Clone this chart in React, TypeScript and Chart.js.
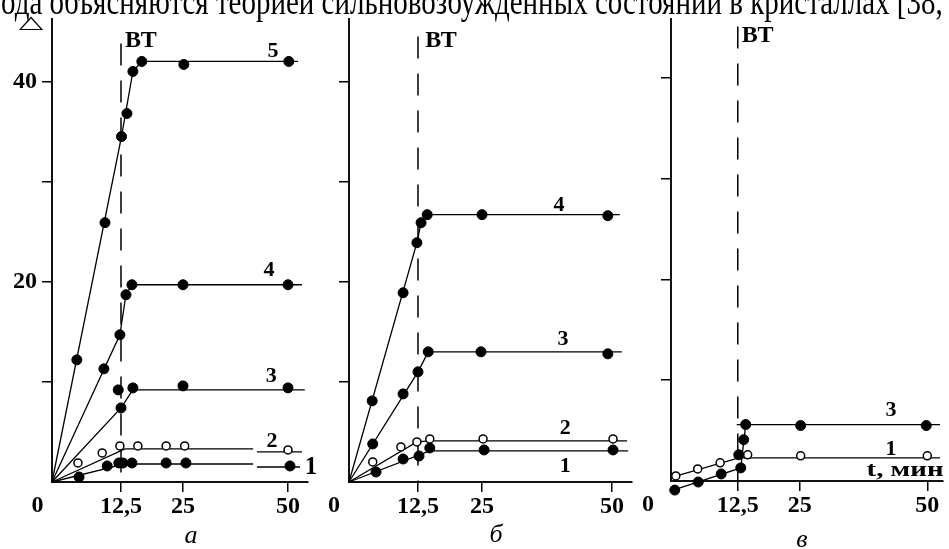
import React, { useEffect, useRef } from 'react';
import { Chart, registerables, LinearScale } from 'chart.js';

Chart.register(...registerables);

// ---------- data (t in minutes, value of Δ) ----------
const X_TICKS = [12.5, 25, 50];
const X_TICK_LABELS = ['12,5', '25', '50'];
const Y_TICKS = [10, 20, 30, 40];
const Y_LABELED = [20, 40];
const BT_TIME = 12.5;

// panel а
const A5_T = [4.5, 9.6, 12.6, 13.7, 14.9, 16.7, 25.2, 50.2];
const A5_V = [12.2, 25.9, 34.5, 36.8, 41.0, 42.0, 41.7, 42.0];
const A5_FIT_T = [0, 12.6, 14.9, 16.7, 52.5];
const A5_FIT_V = [0, 34.5, 41.0, 42.0, 42.0];
const A4_T = [9.4, 12.3, 13.5, 14.7, 25.0, 50.0];
const A4_V = [11.3, 14.7, 18.7, 19.7, 19.7, 19.7];
const A4_FIT_T = [0, 12.3, 13.5, 14.7, 53.5];
const A4_FIT_V = [0, 14.7, 18.7, 19.7, 19.7];
const A3_T = [12.0, 12.5, 14.9, 25.0, 50.0];
const A3_V = [9.2, 7.4, 9.4, 9.6, 9.4];
const A3_FIT_T = [0, 12.5, 14.9, 54.2];
const A3_FIT_V = [0, 7.4, 9.2, 9.2];
const A2_T = [4.7, 9.1, 12.3, 15.9, 21.6, 25.4, 50.0];
const A2_V = [1.9, 2.9, 3.6, 3.6, 3.6, 3.6, 3.2];
const A2_FIT_T = [0, 13.3, 41.7, null, 42.6, 53.5];
const A2_FIT_V = [0, 3.3, 3.3, null, 3.0, 3.0];
const A1_T = [4.9, 10.0, 12.1, 12.9, 14.7, 21.6, 25.7, 50.5];
const A1_V = [0.5, 1.6, 1.9, 1.9, 1.9, 1.9, 1.9, 1.6];
const A1_FIT_T = [0, 13.3, 41.7, null, 42.6, 53.0];
const A1_FIT_V = [0, 1.8, 1.8, null, 1.5, 1.5];

// panel б
const B4_T = [4.2, 9.8, 12.3, 13.1, 14.3, 25.0, 49.2];
const B4_V = [8.1, 18.9, 23.9, 25.9, 26.7, 26.7, 26.6];
const B4_FIT_T = [0, 12.3, 13.1, 14.3, 51.5];
const B4_FIT_V = [0, 23.9, 25.9, 26.7, 26.7];
const B3_T = [4.3, 9.8, 12.5, 14.5, 24.8, 49.2];
const B3_V = [3.8, 8.8, 11.0, 13.0, 13.0, 12.8];
const B3_FIT_T = [0, 12.5, 14.5, 51.9];
const B3_FIT_V = [0, 11.0, 13.0, 13.0];
const B2_T = [4.3, 9.4, 12.3, 14.8, 25.2, 50.2];
const B2_V = [2.0, 3.5, 4.0, 4.3, 4.3, 4.3];
const B2_FIT_T = [0, 12.3, 14.8, 52.9];
const B2_FIT_V = [0, 4.0, 4.1, 4.1];
const B1_T = [4.9, 9.8, 12.7, 14.8, 25.4, 50.2];
const B1_V = [1.0, 2.3, 2.6, 3.4, 3.2, 3.2];
const B1_FIT_T = [0, 14.8, 53.1];
const B1_FIT_V = [0, 3.1, 3.1];

// panel в
const C3_T = [0.7, 5.1, 9.4, 13.1, 12.7, 13.7, 14.1, 25.2, 49.8];
const C3_V = [-0.9, -0.1, 0.7, 1.3, 2.6, 4.1, 5.6, 5.5, 5.5];
const C3_FIT_T = [0.4, 13.1, 14.1, null, 12.3, 52.5];
const C3_FIT_V = [-0.9, 1.3, 5.6, null, 5.6, 5.6];
const C1_T = [0.9, 5.0, 9.2, 14.5, 25.2, 50.0];
const C1_V = [0.5, 1.2, 1.8, 2.6, 2.5, 2.5];
const C1_FIT_T = [0.4, 12.7, 52.5];
const C1_FIT_V = [0.4, 2.3, 2.3];

const TOP_TEXT = 'ода объясняются теорией сильновозбужденных состояний в кристаллах [38,';

// ---------- piecewise-linear time scale ----------
class WarpScale extends LinearScale {
  static id = 'warp';
  warpDecimal(value) {
    const vals = this.options.warpValues;
    const fr = this.options.warpFracs;
    let i = 0;
    while (i < vals.length - 2 && value > vals[i + 1]) i++;
    return fr[i] + ((value - vals[i]) / (vals[i + 1] - vals[i])) * (fr[i + 1] - fr[i]);
  }
  getPixelForValue(value) {
    if (value === null || value === undefined || Number.isNaN(value)) return NaN;
    return this.getPixelForDecimal(this.warpDecimal(value));
  }
  getValueForPixel(pixel) {
    const d = this.getDecimalForPixel(pixel);
    const vals = this.options.warpValues;
    const fr = this.options.warpFracs;
    let i = 0;
    while (i < fr.length - 2 && d > fr[i + 1]) i++;
    return vals[i] + ((d - fr[i]) / (fr[i + 1] - fr[i])) * (vals[i + 1] - vals[i]);
  }
}
Chart.register(WarpScale);

const SERIF = '"Liberation Serif", "Times New Roman", serif';
const LABEL_FONT = `bold 22px ${SERIF}`;
const LETTER_FONT = `italic 26px ${SERIF}`;

const PANEL_A = {
  area: { left: 52, right: 308, top: 15, bottom: 482 },
  warpValues: [0, 12.5, 25, 50, 55],
  warpFracs: [0, 0.2695, 0.5117, 0.9219, 1],
  yMax: 46.2,
  btTop: 43.8,
  yLabels: true,
  curves: [
    { t: A5_T, v: A5_V, ft: A5_FIT_T, fv: A5_FIT_V, open: false },
    { t: A4_T, v: A4_V, ft: A4_FIT_T, fv: A4_FIT_V, open: false },
    { t: A3_T, v: A3_V, ft: A3_FIT_T, fv: A3_FIT_V, open: false },
    { t: A2_T, v: A2_V, ft: A2_FIT_T, fv: A2_FIT_V, open: true },
    { t: A1_T, v: A1_V, ft: A1_FIT_T, fv: A1_FIT_V, open: false },
  ],
  texts: [
    { text: '5', t: 46.4, v: 43.0, font: LABEL_FONT },
    { text: '4', t: 45.5, v: 21.1, font: LABEL_FONT },
    { text: '3', t: 46.0, v: 10.6, font: LABEL_FONT },
    { text: '2', t: 46.2, v: 4.06, font: LABEL_FONT },
    { text: '1', t: 55.75, v: 1.49, font: `bold 25px ${SERIF}` },
    { text: 'ВТ', t: 13.3, v: 44.1, font: `bold 24px ${SERIF}`, align: 'left' },
    { text: '0', px: 37.5, py: 506, font: `bold 24px ${SERIF}` },
    { text: 'а', px: 191, py: 536, font: LETTER_FONT },
  ],
  extra: true,
};

const PANEL_B = {
  area: { left: 349, right: 632, top: 15, bottom: 482 },
  warpValues: [0, 12.5, 25, 50, 53.85],
  warpFracs: [0, 0.2438, 0.47, 0.9293, 1],
  yMax: 46.2,
  btTop: 44.5,
  yLabels: false,
  curves: [
    { t: B4_T, v: B4_V, ft: B4_FIT_T, fv: B4_FIT_V, open: false },
    { t: B3_T, v: B3_V, ft: B3_FIT_T, fv: B3_FIT_V, open: false },
    { t: B2_T, v: B2_V, ft: B2_FIT_T, fv: B2_FIT_V, open: true },
    { t: B1_T, v: B1_V, ft: B1_FIT_T, fv: B1_FIT_V, open: false },
  ],
  texts: [
    { text: '4', t: 39.8, v: 27.6, font: LABEL_FONT },
    { text: '3', t: 40.6, v: 14.3, font: LABEL_FONT },
    { text: '2', t: 41.0, v: 5.35, font: LABEL_FONT },
    { text: '1', t: 41.0, v: 1.58, font: LABEL_FONT },
    { text: 'ВТ', t: 13.9, v: 44.1, font: `bold 24px ${SERIF}`, align: 'left' },
    { text: '0', px: 334, py: 506, font: `bold 24px ${SERIF}` },
    { text: 'б', px: 496, py: 535, font: LETTER_FONT },
  ],
  extra: false,
};

const PANEL_C = {
  area: { left: 671, right: 948, top: 18, bottom: 481 },
  warpValues: [0, 12.5, 25, 50, 53.1],
  warpFracs: [0, 0.2455, 0.4729, 0.9422, 1],
  yMax: 45.8,
  btTop: 45.1,
  yLabels: false,
  curves: [
    { t: C3_T, v: C3_V, ft: C3_FIT_T, fv: C3_FIT_V, open: false },
    { t: C1_T, v: C1_V, ft: C1_FIT_T, fv: C1_FIT_V, open: true },
  ],
  texts: [
    { text: '3', t: 42.9, v: 7.0, font: LABEL_FONT },
    { text: '1', t: 42.9, v: 3.17, font: LABEL_FONT },
    { text: 't, мин', t: 38.1, v: 1.09, font: `bold 22px ${SERIF}`, align: 'left', w: 77 },
    { text: 'ВТ', t: 13.3, v: 44.2, font: `bold 24px ${SERIF}`, align: 'left' },
    { text: '0', px: 648, py: 505, font: `bold 24px ${SERIF}` },
    { text: 'в', px: 802, py: 540, font: LETTER_FONT },
  ],
  extra: false,
};

function pts(ts, vs) {
  return ts.map((t, i) => ({ x: t === null ? ts[i - 1] : t, y: vs[i] }));
}

function textPlugin(p) {
  return {
    id: 'panelText',
    // let markers that sit just outside the plot frame (e.g. below the t-axis) still be drawn
    beforeDatasetsDraw(chart) {
      const a = chart.chartArea;
      chart.$savedArea = a;
      chart.chartArea = {
        left: a.left - 30,
        right: a.right + 30,
        top: a.top - 30,
        bottom: a.bottom + 30,
        width: a.width + 60,
        height: a.height + 60,
      };
    },
    afterDatasetsDraw(chart) {
      if (chart.$savedArea) {
        chart.chartArea = chart.$savedArea;
        chart.$savedArea = null;
      }
    },
    afterDraw(chart) {
      const ctx = chart.ctx;
      const xs = chart.scales.x;
      const ys = chart.scales.y;
      ctx.save();
      ctx.fillStyle = '#000';
      ctx.textBaseline = 'middle';
      for (const it of p.texts) {
        const x = it.t !== undefined ? xs.getPixelForValue(it.t) : it.px;
        const y = it.v !== undefined ? ys.getPixelForValue(it.v) : it.py;
        ctx.font = it.font;
        ctx.textAlign = it.align || 'center';
        if (it.w) {
          const mw = ctx.measureText(it.text).width;
          ctx.save();
          ctx.translate(x, y);
          ctx.scale(it.w / mw, 1);
          ctx.fillText(it.text, 0, 0);
          ctx.restore();
        } else {
          ctx.fillText(it.text, x, y);
        }
      }
      if (p.extra) {
        // cut-off line of body text above the figure
        ctx.save();
        ctx.textAlign = 'left';
        ctx.textBaseline = 'alphabetic';
        ctx.font = `28px ${SERIF}`;
        const w = ctx.measureText(TOP_TEXT).width;
        const size = (28 * 942) / w;
        ctx.font = `${size}px ${SERIF}`;
        ctx.translate(1, 13.5);
        ctx.scale(1, 1.3);
        ctx.fillText(TOP_TEXT, 0, 0);
        ctx.restore();
        // Δ-symbol of the ordinate
        ctx.save();
        ctx.translate(31, 23.5);
        ctx.scale(1.45, 0.8);
        ctx.font = `22px "DejaVu Sans"`;
        ctx.textAlign = 'center';
        ctx.textBaseline = 'middle';
        ctx.fillText('△', 0, 0);
        ctx.restore();
      }
      ctx.restore();
    },
  };
}

function makeConfig(p) {
  const datasets = [];
  datasets.push({
    data: [
      { x: BT_TIME, y: p.btTop },
      { x: BT_TIME, y: 0 },
    ],
    showLine: true,
    borderColor: '#000',
    borderWidth: 1.5,
    borderDash: [22, 15],
    pointRadius: 0,
    clip: false,
    order: 3,
  });
  for (const c of p.curves) {
    datasets.push({
      data: pts(c.ft, c.fv),
      showLine: true,
      spanGaps: false,
      borderColor: '#000',
      borderWidth: 1.3,
      pointRadius: 0,
      clip: false,
      order: 2,
    });
  }
  for (const c of p.curves) {
    datasets.push({
      data: pts(c.t, c.v),
      showLine: false,
      pointRadius: c.open ? 4 : 5,
      pointBackgroundColor: c.open ? '#fff' : '#000',
      pointBorderColor: '#000',
      pointBorderWidth: c.open ? 1.5 : 1,
      clip: false,
      order: 1,
    });
  }
  const W = 949;
  const H = 549;
  const YW = 52;
  const XH = 40;
  const tickFont = { family: SERIF, size: 24, weight: 'bold' };
  return {
    type: 'scatter',
    data: { datasets },
    options: {
      responsive: false,
      animation: false,
      devicePixelRatio: 1,
      events: [],
      layout: {
        padding: {
          left: p.area.left - YW,
          right: W - p.area.right,
          top: p.area.top,
          bottom: H - p.area.bottom - XH,
        },
      },
      plugins: { legend: { display: false }, tooltip: { enabled: false } },
      scales: {
        x: {
          type: 'warp',
          min: 0,
          max: p.warpValues[p.warpValues.length - 1],
          warpValues: p.warpValues,
          warpFracs: p.warpFracs,
          afterBuildTicks: (s) => {
            s.ticks = X_TICKS.map((v) => ({ value: v }));
          },
          afterFit: (s) => {
            s.height = XH;
          },
          grid: { display: true, drawOnChartArea: false, drawTicks: true, tickLength: 10, color: '#000', lineWidth: 1.5 },
          border: { display: true, color: '#111', width: 2 },
          ticks: {
            autoSkip: false,
            maxRotation: 0,
            padding: 0,
            color: '#000',
            font: tickFont,
            callback: (v, i) => X_TICK_LABELS[i],
          },
        },
        y: {
          type: 'linear',
          min: 0,
          max: p.yMax,
          afterBuildTicks: (s) => {
            s.ticks = Y_TICKS.map((v) => ({ value: v }));
          },
          afterFit: (s) => {
            s.width = YW;
          },
          grid: { display: true, drawOnChartArea: false, drawTicks: true, tickLength: 10, color: '#000', lineWidth: 1.5 },
          border: { display: true, color: '#111', width: 2 },
          ticks: {
            autoSkip: false,
            padding: 5,
            color: '#000',
            font: tickFont,
            callback: (v) => (p.yLabels && Y_LABELED.includes(v) ? String(v) : ''),
          },
        },
      },
    },
    plugins: [textPlugin(p)],
  };
}

function Panel({ p }) {
  const ref = useRef(null);
  useEffect(() => {
    const chart = new Chart(ref.current, makeConfig(p));
    return () => chart.destroy();
  }, [p]);
  return (
    <canvas
      ref={ref}
      width={949}
      height={549}
      style={{ position: 'absolute', left: 0, top: 0, width: 949, height: 549 }}
    />
  );
}

export default function App() {
  return (
    <div
      style={{
        position: 'absolute',
        left: 0,
        top: 0,
        width: 949,
        height: 549,
        overflow: 'hidden',
        background: '#fff',
      }}
    >
      <Panel p={PANEL_A} />
      <Panel p={PANEL_B} />
      <Panel p={PANEL_C} />
    </div>
  );
}
